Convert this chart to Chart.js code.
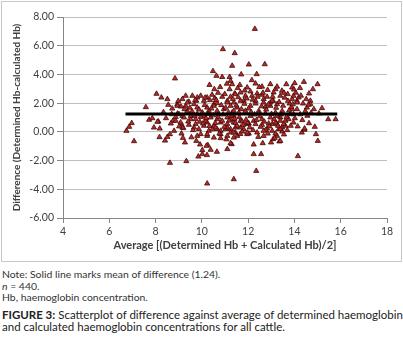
<!DOCTYPE html>
<html>
<head>
<meta charset="utf-8">
<script src="https://cdn.jsdelivr.net/npm/chart.js@4.4.0/dist/chart.umd.min.js"></script>
<style>
  body { margin: 0; background: #fff; font-family: Lato, sans-serif; }
  #box { position: absolute; left: 1px; top: 1px; width: 399px; height: 259px; border: 1px solid #c8c8c8; }
  #box canvas { display: block; }
  .note { position: absolute; left: 2px; font-size: 10.4px; color: #333; line-height: 12px; white-space: nowrap; }
  .cap { position: absolute; left: 2px; font-size: 11.5px; color: #222; line-height: 12px; white-space: nowrap; }
</style>
</head>
<body>
<div id="box"><canvas id="scatter" width="399" height="259"></canvas></div>
<div class="note" style="top:268px">Note: Solid line marks mean of difference (1.24).</div>
<div class="note" style="top:280px"><i>n</i> = 440.</div>
<div class="note" style="top:291px">Hb, haemoglobin concentration.</div>
<div class="cap" style="top:309px"><b>FIGURE 3:</b> Scatterplot of difference against average of determined haemoglobin</div>
<div class="cap" style="top:321px">and calculated haemoglobin concentrations for all cattle.</div>
<script>
'use strict'

// axis ranges / ticks
var xTicks = [4, 6, 8, 10, 12, 14, 16, 18];
var yTicks = [-6, -4, -2, 0, 2, 4, 6, 8];

// mean of difference, drawn across the range of averages
var meanDiff = 1.24;
var meanLineX = [6.7, 15.85];

// average [(determined Hb + calculated Hb)/2]
var avgHb = [
    12.29, 10.91, 11.42, 11.31, 12.03, 12.72, 10.48, 10.63, 10.88, 11.20,
    8.84, 11.70, 12.37, 10.33, 10.54, 11.20, 11.31, 8.04, 8.25, 8.51,
    7.58, 6.74, 6.86, 6.97, 7.07, 7.72, 7.86, 8.12, 8.18, 8.17,
    8.41, 8.51, 8.62, 8.62, 9.33, 9.18, 9.27, 9.85, 10.22, 10.38,
    10.65, 10.02, 9.92, 10.26, 11.10, 11.29, 10.23, 11.38, 9.76, 8.34,
    8.75, 8.87, 8.95, 9.10, 12.35, 14.15, 12.24, 12.56, 12.24, 12.63,
    12.99, 13.35, 14.32, 14.43, 11.24, 15.19, 15.46, 15.78, 14.63, 14.93,
    15.01, 13.08, 13.25, 10.02, 10.20, 9.80, 8.80, 8.66, 9.13, 9.20,
    7.93, 8.08, 8.70, 9.16, 9.37, 9.08, 9.52, 9.80, 9.73, 8.94,
    9.30, 9.66, 9.16, 9.30, 9.59, 9.80, 9.44, 9.95, 10.23, 10.35,
    10.56, 10.66, 10.88, 10.99, 11.10, 11.24, 11.42, 11.38, 9.76, 10.09,
    11.24, 11.64, 11.96, 12.16, 12.32, 12.60, 12.96, 13.18, 13.25, 13.46,
    13.65, 13.90, 14.01, 14.41, 14.80, 14.63, 15.00, 11.45, 11.67, 11.88,
    12.10, 12.17, 12.39, 12.60, 12.67, 12.82, 13.10, 13.08, 13.39, 13.71,
    13.90, 14.11, 14.18, 14.51, 11.81, 12.32, 12.96, 13.79, 14.37, 14.69,
    13.72, 13.96, 14.11, 14.54, 13.90, 14.69, 14.44, 13.39, 13.61, 13.82,
    13.18, 13.04, 13.47, 12.82, 13.25, 13.04, 12.75, 12.46, 12.32, 12.10,
    11.88, 11.67, 11.53, 11.31, 11.10, 10.95, 10.73, 10.52, 10.30, 10.09,
    12.60, 12.24, 11.96, 11.67, 11.38, 11.10, 10.81, 10.52, 10.23, 11.81,
    11.24, 10.66, 13.25, 12.67, 12.96, 13.87, 14.11, 14.61, 13.96, 13.47,
    13.25, 12.96, 12.75, 12.46, 12.10, 11.60, 11.38, 11.24, 11.45, 11.74,
    12.03, 12.32, 12.60, 12.89, 13.18, 13.39, 13.75, 13.96, 13.61, 13.32,
    13.04, 12.75, 12.39, 12.03, 11.74, 11.45, 11.53, 11.96, 12.67, 13.18,
    13.47, 13.39, 8.94, 9.37, 9.80, 10.02, 10.23, 10.52, 10.66, 11.24,
    11.38, 9.01, 9.23, 9.52, 9.73, 9.95, 10.16, 10.38, 10.66, 10.88,
    11.10, 8.87, 9.16, 9.44, 9.66, 9.87, 10.09, 10.30, 10.59, 10.81,
    11.02, 11.24, 11.45, 9.95, 10.23, 10.52, 10.81, 11.10, 11.38, 13.53,
    13.39, 12.67, 11.96, 11.67, 11.38, 11.10, 10.81, 10.23, 11.96,
    9.02, 9.41, 9.58, 9.69, 9.88, 9.91, 10.05, 10.12, 10.18, 10.27,
    10.33, 10.41, 10.45, 10.49, 10.58, 10.62, 10.71, 10.76, 10.84, 10.92,
    10.97, 11.03, 11.06, 11.15, 11.18, 11.27, 11.34, 11.41, 11.49, 11.52,
    11.57, 11.62, 11.66, 11.71, 11.78, 11.84, 11.91, 11.94, 12.02, 12.07,
    12.13, 12.19, 12.21, 12.28, 12.36, 12.41, 12.44, 12.51, 12.54, 12.58,
    12.64, 12.70, 12.78, 12.85, 12.88, 12.92, 13.01, 13.06, 13.12, 13.15,
    13.21, 13.29, 13.34, 13.42, 13.51, 13.55, 13.58, 13.66, 13.69, 13.77,
    13.84, 13.93, 14.02, 14.06, 14.14, 14.25, 14.28, 14.34, 14.47, 14.56,
    14.72, 14.84, 15.06, 14.88, 9.48, 9.62, 9.25, 8.98, 8.72, 8.45,
    8.55, 9.12, 9.55, 9.71, 10.14, 10.44, 10.70, 10.79, 11.08, 11.55,
    11.85, 12.48, 12.84, 13.55, 13.98, 14.24
];

// difference (determined Hb - calculated Hb), same order as avgHb
var diffHb = [
    7.17, 5.76, 5.48, 4.60, 4.69, 4.71, 4.23, 3.90, 3.82, 3.82,
    3.72, 4.00, 4.02, 3.27, 2.97, 2.97, 3.32, 2.65, 2.39, 2.28,
    1.72, 0.07, 0.35, 0.61, -0.65, 0.84, 0.95, 0.72, 0.23, -0.37,
    -0.61, -0.35, -0.16, -2.16, -2.04, -0.42, -0.74, -1.72, -1.62, -1.25,
    -1.39, -1.27, -0.88, -0.93, -1.20, -0.86, -3.60, -3.30, -0.63, 1.37,
    0.77, 1.04, 1.27, 1.76, -2.72, -1.69, -1.55, -1.55, -0.88, -0.79,
    -0.74, -0.67, -0.05, 0.14, -0.79, 1.65, 0.88, 0.88, 0.60, -0.16,
    -0.63, -0.51, -0.28, -1.55, -0.97, -0.28, 0.07, 0.58, 0.49, 0.26,
    0.30, 0.70, 1.23, 1.11, 1.46, 0.65, 0.88, 1.23, 0.54, 1.93,
    1.81, 1.93, 2.28, 2.51, 2.51, 2.39, 2.09, 2.51, 2.39, 2.21,
    2.35, 2.00, 2.44, 2.63, 2.16, 2.44, 2.67, 2.04, 2.16, 2.16,
    3.55, 3.27, 3.09, 3.60, 3.36, 3.15, 3.32, 2.97, 3.15, 2.86,
    3.32, 3.09, 3.39, 3.48, 2.97, 2.67, 3.32, 2.62, 2.74, 2.51,
    2.81, 2.51, 2.67, 2.58, 2.28, 2.44, 2.74, 2.16, 2.51, 2.63,
    2.28, 2.16, 2.39, 2.28, 2.16, 1.97, 2.04, 1.97, 1.97, 2.16,
    2.16, 2.51, 1.58, 1.69, 1.58, 1.93, 0.23, 1.00, 0.77, 1.23,
    1.34, 0.54, 0.30, 0.23, 1.93, 2.16, 1.74, 1.46, 2.16, 1.81,
    1.46, 2.16, 1.69, 1.34, 2.04, 1.58, 1.23, 1.93, 1.46, 1.11,
    0.88, 0.77, 0.54, 0.77, 0.65, 0.54, 0.65, 0.42, 0.65, 0.19,
    0.19, 0.19, 0.54, 2.04, 1.81, 1.74, 2.04, 1.88, 1.23, 1.46,
    1.11, 1.00, 1.27, 1.30, 1.11, 1.34, 1.11, 0.88, 0.62, 0.72,
    0.58, 0.54, 0.49, 0.58, 0.65, 0.77, 0.88, 0.65, 0.42, 0.19,
    0.07, 0.12, -0.05, -0.12, 0.02, -0.05, -0.28, -0.16, -0.28, -0.12,
    0.02, -0.63, 1.81, 2.04, 1.69, 1.34, 1.69, 1.81, 1.46, 1.81,
    1.46, 1.23, 1.00, 1.11, 0.88, 1.04, 0.77, 1.00, 0.88, 0.77,
    1.00, 0.77, 0.30, 0.49, 0.30, 0.19, 0.42, 0.07, 0.30, 0.07,
    0.19, -0.05, 0.30, -0.16, -0.28, -0.40, -0.44, -0.28, -0.40, 0.54,
    0.19, 0.07, -0.05, 0.30, -0.05, 0.30, -0.16, -0.16, 0.65,
    0.38, 0.72, 1.42, 1.12, 1.55, 0.71, 0.58, 1.86, 0.95, 1.24,
    0.41, 1.62, 0.18, 1.15, 0.62, 2.22, 1.02, -0.12, 1.86, 1.21,
    0.35, 1.68, -0.52, 1.35, 0.78, 1.12, 2.28, 0.91, 1.84, 0.42,
    2.41, 1.02, -0.15, 1.58, 0.48, 1.95, 0.85, 2.32, 1.62, 0.31,
    1.38, 2.24, 0.12, 1.21, 0.82, 2.44, -0.35, 1.08, 0.35, 1.78,
    2.72, 0.71, 1.55, -0.12, 1.92, 0.38, 1.25, 2.45, 0.88, -0.42,
    1.68, 0.42, 2.08, 1.21, 1.82, -0.18, 2.38, 1.05, 0.12, 1.48,
    0.42, 1.92, 0.95, 2.72, 0.38, 1.22, 2.52, 0.82, 1.45, 1.12,
    1.32, 1.58, 1.28, 0.35, 1.68, 0.12, 1.58, 2.15, 1.62, 0.95,
    1.88, -0.12, -0.38, 2.21, 2.38, 2.58, 2.72, 3.12, 3.35, 3.05,
    2.88, 3.12, 2.92, 2.72, 2.95, 3.05
];

var axisColor = '#868686';
var gridColor = '#bfbfbf';
var textColor = '#404040';

Chart.defaults.font.family = 'Lato';
Chart.defaults.color = textColor;

var points = avgHb.map(function (v, i) { return { x: v, y: diffHb[i] }; });
var meanLine = meanLineX.map(function (v) { return { x: v, y: meanDiff }; });

new Chart(document.getElementById('scatter').getContext('2d'), {
    type: 'scatter',
    data: {
        datasets: [
            {
                label: 'Mean of difference',
                data: meanLine,
                showLine: true,
                borderColor: '#000000',
                borderWidth: 3,
                pointRadius: 0
            },
            {
                label: 'Difference',
                data: points,
                pointStyle: 'triangle',
                pointRadius: 3,
                backgroundColor: '#bb2a25',
                borderColor: '#3d0a0a',
                borderWidth: 0.8
            }
        ]
    },
    options: {
        responsive: false,
        animation: false,
        devicePixelRatio: 1,
        layout: { padding: { top: 15, right: 14, left: 0, bottom: 0 } },
        plugins: { legend: { display: false }, tooltip: { enabled: false } },
        scales: {
            x: {
                type: 'linear',
                min: xTicks[0],
                max: xTicks[xTicks.length - 1],
                afterBuildTicks: function (scale) {
                    scale.ticks = xTicks.map(function (v) { return { value: v }; });
                },
                afterFit: function (scale) { scale.height = 43; },
                border: { color: axisColor, width: 1 },
                grid: { drawOnChartArea: false, drawTicks: true, tickLength: 5, tickColor: axisColor },
                ticks: { padding: 2, font: { size: 10.5 }, color: textColor, maxRotation: 0 },
                title: {
                    display: true,
                    text: 'Average [(Determined Hb + Calculated Hb)/2]',
                    font: { size: 11, weight: 'bold' },
                    color: textColor,
                    padding: { top: 0, bottom: 9 }
                }
            },
            y: {
                type: 'linear',
                min: yTicks[0],
                max: yTicks[yTicks.length - 1],
                afterBuildTicks: function (scale) {
                    scale.ticks = yTicks.map(function (v) { return { value: v }; });
                },
                afterFit: function (scale) { scale.width = 61; },
                border: { color: axisColor, width: 1 },
                grid: { color: gridColor, drawTicks: true, tickLength: 6, tickColor: axisColor },
                ticks: {
                    padding: 3,
                    font: { size: 10.5 },
                    color: textColor,
                    callback: function (v) { return v.toFixed(2); }
                },
                title: {
                    display: true,
                    text: 'Difference (Determined Hb-calculated Hb)',
                    font: { size: 10, weight: 'bold' },
                    color: textColor,
                    padding: { top: 9, bottom: 0 }
                }
            }
        }
    }
});
</script>
</body>
</html>
